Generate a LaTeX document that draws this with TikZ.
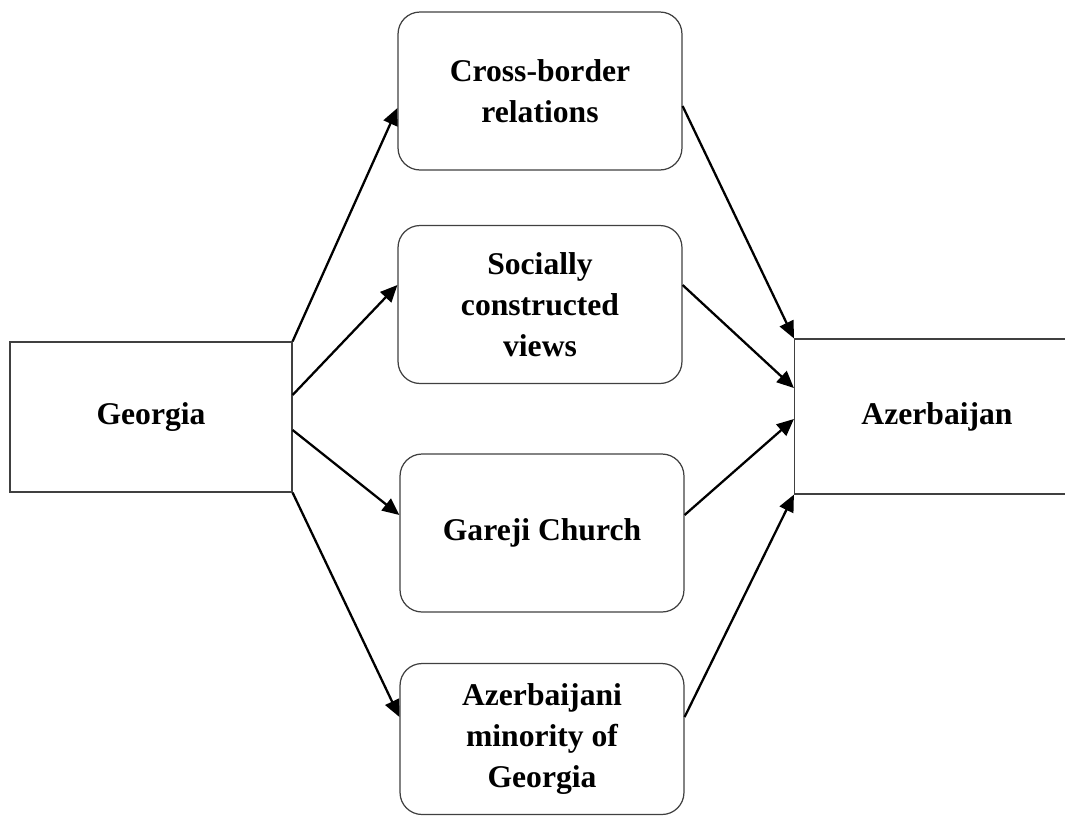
\documentclass[tikz,border=0pt]{standalone}
\usepackage{fontspec}
\setmainfont{Liberation Serif}
\usepackage{tikz}
\usetikzlibrary{arrows.meta, positioning, calc}

\begin{document}
\begin{tikzpicture}[x=0.02cm,y=-0.02cm,>={Triangle[length=0.34cm,width=0.3cm]},
        every node/.style={font=\bfseries\fontsize{18}{23.5}\selectfont, align=center},
        country/.style={draw=black!75, line width=0.7pt, minimum width=5.64cm, minimum height=3cm},
        factor/.style={draw=black!75, line width=0.7pt, rounded corners=0.44cm, minimum width=5.68cm, minimum height=3.16cm},
        link/.style={->, line width=1.3pt}]

  \useasboundingbox (0,0) rectangle (1065,816);

  \node[country] (georgia) at (151,417) {Georgia};
  \node[country, minimum width=5.7cm, minimum height=3.1cm] (azerbaijan) at (937,416.5) {Azerbaijan};

  \node[factor] (cbr) at (540,91) {Cross-border\\relations};
  \node[factor] (scv) at (540,304.5) {Socially\\constructed\\views};
  \node[factor] (gc)  at (542,533) {Gareji Church};
  \node[factor, minimum height=3.02cm] (azm) at (542,739) {Azerbaijani\\minority of\\Georgia};

  % Georgia -> factors
  \path[link] (georgia.north east) edge ($(cbr.west)+(0,17)$)
              ($(georgia.east)+(0,-22)$) edge ($(scv.west)+(0,-19.5)$)
              ($(georgia.east)+(0,13)$) edge ($(gc.west)+(0,-18)$)
              (georgia.south east) edge ($(azm.west)+(0,-22)$);

  % factors -> Azerbaijan
  \path[link] ($(cbr.east)+(0,15)$) edge (azerbaijan.north west)
              ($(scv.east)+(0,-19.5)$) edge ($(azerbaijan.west)+(0,-28.5)$)
              ($(gc.east)+(0,-18)$) edge ($(azerbaijan.west)+(0,2.5)$)
              ($(azm.east)+(0,-22)$) edge (azerbaijan.south west);
\end{tikzpicture}
\end{document}
